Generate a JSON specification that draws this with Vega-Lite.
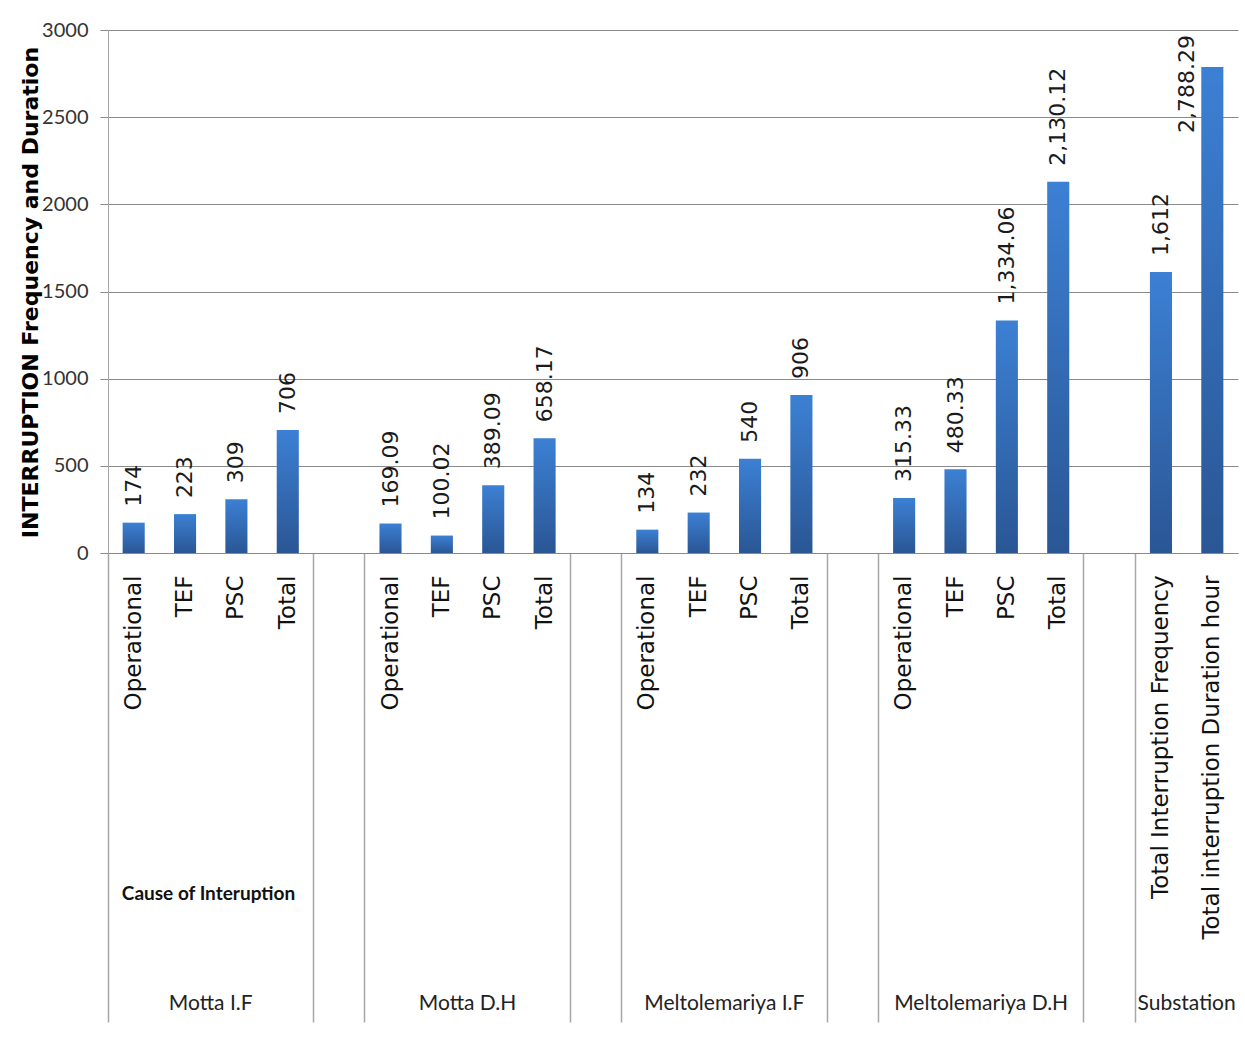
{
  "$schema": "https://vega.github.io/schema/vega-lite/v6.json",
  "autosize": "none",
  "width": 1130,
  "height": 523,
  "padding": {"left": 108, "top": 30, "right": 7, "bottom": 492},
  "background": "white",
  "config": {"view": {"stroke": null}},
  "data": {
    "values": [
      {"site": "Motta I.F", "cause": "Operational", "value": 174},
      {"site": "Motta I.F", "cause": "TEF", "value": 223},
      {"site": "Motta I.F", "cause": "PSC", "value": 309},
      {"site": "Motta I.F", "cause": "Total", "value": 706},
      {"site": "Motta D.H", "cause": "Operational", "value": 169.09},
      {"site": "Motta D.H", "cause": "TEF", "value": 100.02},
      {"site": "Motta D.H", "cause": "PSC", "value": 389.09},
      {"site": "Motta D.H", "cause": "Total", "value": 658.17},
      {"site": "Meltolemariya I.F", "cause": "Operational", "value": 134},
      {"site": "Meltolemariya I.F", "cause": "TEF", "value": 232},
      {"site": "Meltolemariya I.F", "cause": "PSC", "value": 540},
      {"site": "Meltolemariya I.F", "cause": "Total", "value": 906},
      {"site": "Meltolemariya D.H", "cause": "Operational", "value": 315.33},
      {"site": "Meltolemariya D.H", "cause": "TEF", "value": 480.33},
      {"site": "Meltolemariya D.H", "cause": "PSC", "value": 1334.06},
      {"site": "Meltolemariya D.H", "cause": "Total", "value": 2130.12},
      {"site": "Substation", "cause": "Total Interruption Frequency", "value": 1612},
      {"site": "Substation", "cause": "Total interruption Duration hour", "value": 2788.29}
    ]
  },
  "transform": [{"calculate": "datum.site + '|' + datum.cause", "as": "slot"}],
  "resolve": {"axis": {"x": "independent"}},
  "layer": [
    {
      "mark": {
        "type": "bar",
        "width": {"band": 0.43},
        "color": {
          "gradient": "linear",
          "x1": 0, "y1": 0, "x2": 0, "y2": 1,
          "stops": [
            {"offset": 0, "color": "#3c80d4"},
            {"offset": 1, "color": "#2a5694"}
          ]
        }
      },
      "encoding": {
        "x": {
          "field": "slot",
          "type": "nominal",
          "sort": null,
          "scale": {
            "domain": [
              "Motta I.F|Operational", "Motta I.F|TEF", "Motta I.F|PSC", "Motta I.F|Total", "gap1|",
              "Motta D.H|Operational", "Motta D.H|TEF", "Motta D.H|PSC", "Motta D.H|Total", "gap2|",
              "Meltolemariya I.F|Operational", "Meltolemariya I.F|TEF", "Meltolemariya I.F|PSC", "Meltolemariya I.F|Total", "gap3|",
              "Meltolemariya D.H|Operational", "Meltolemariya D.H|TEF", "Meltolemariya D.H|PSC", "Meltolemariya D.H|Total", "gap4|",
              "Substation|Total Interruption Frequency", "Substation|Total interruption Duration hour"
            ],
            "paddingInner": 0,
            "paddingOuter": 0
          },
          "axis": {
            "orient": "bottom",
            "labelExpr": "split(datum.value, '|')[1]",
            "labelAngle": -90,
            "labelAlign": "right",
            "labelBaseline": "middle",
            "labelPadding": 22,
            "labelFont": "DejaVu Sans",
            "labelFontSize": 23,
            "labelColor": "#111",
            "labelLimit": 600,
            "labelOverlap": false,
            "ticks": false,
            "domain": false,
            "grid": false,
            "title": "Cause of Interuption",
            "titleFont": "Lato",
            "titleFontWeight": "bold",
            "titleFontSize": 19,
            "titleColor": "#111",
            "titleX": 100,
            "titleY": 340,
            "titleAlign": "center",
            "titleBaseline": "middle",
            "titleAngle": 0
          }
        },
        "y": {
          "field": "value",
          "type": "quantitative",
          "scale": {"domain": [0, 3000], "nice": false},
          "axis": {
            "values": [0, 500, 1000, 1500, 2000, 2500, 3000],
            "format": "d",
            "grid": true,
            "gridColor": "#8a8a8a",
            "gridWidth": 1,
            "domain": true,
            "domainColor": "#a6a6a6",
            "tickColor": "#8a8a8a",
            "tickSize": 8,
            "labelPadding": 12,
            "labelFont": "Lato",
            "labelFontSize": 20,
            "labelColor": "#333",
            "title": "INTERRUPTION Frequency and Duration",
            "titleFont": "DejaVu Sans",
            "titleFontWeight": "bold",
            "titleFontSize": 22,
            "titleColor": "#000",
            "titleAngle": -90,
            "titleX": -78,
            "titleY": 262,
            "titleAlign": "center",
            "titleBaseline": "middle"
          }
        }
      }
    },
    {
      "transform": [{"filter": "datum.value < 2500"}],
      "mark": {
        "type": "text",
        "angle": -90,
        "align": "left",
        "baseline": "middle",
        "dx": 16,
        "font": "DejaVu Sans",
        "fontSize": 22,
        "color": "#1a1a1a"
      },
      "encoding": {
        "x": {
          "field": "slot",
          "type": "nominal",
          "sort": null,
          "axis": {
            "orient": "bottom",
            "bandPosition": 0,
            "labelExpr": "datum.value == 'Motta I.F|PSC' ? 'Motta I.F' : datum.value == 'Motta D.H|PSC' ? 'Motta  D.H' : datum.value == 'Meltolemariya I.F|PSC' ? 'Meltolemariya  I.F' : datum.value == 'Meltolemariya D.H|PSC' ? 'Meltolemariya  D.H' : datum.value == 'Substation|Total interruption Duration hour' ? 'Substation' : ''",
            "labelAngle": 0,
            "labelAlign": "center",
            "labelBaseline": "middle",
            "labelPadding": -19,
            "labelOffset": -25.7,
            "labelFont": "Lato",
            "labelFontSize": 21,
            "labelColor": "#222",
            "labelOverlap": false,
            "ticks": true,
            "tickSize": 469,
            "tickColor": "#a6a6a6",
            "tickWidth": 1.5,
            "tickOpacity": {
              "condition": {
                "test": "indexof(datum.value, 'Operational') >= 0 || indexof(datum.value, 'gap') >= 0 || indexof(datum.value, 'Frequency') >= 0",
                "value": 1
              },
              "value": 0
            },
            "domain": true,
            "domainColor": "#8a8a8a",
            "grid": false,
            "title": null
          }
        },
        "y": {"field": "value", "type": "quantitative"},
        "text": {"field": "value", "type": "quantitative", "format": ",.2~f"}
      }
    },
    {
      "transform": [{"filter": "datum.value >= 2500"}],
      "mark": {
        "type": "text",
        "angle": -90,
        "align": "left",
        "baseline": "middle",
        "dx": -66,
        "dy": -25,
        "font": "DejaVu Sans",
        "fontSize": 22,
        "color": "#1a1a1a"
      },
      "encoding": {
        "x": {"field": "slot", "type": "nominal", "sort": null, "axis": null},
        "y": {"field": "value", "type": "quantitative"},
        "text": {"field": "value", "type": "quantitative", "format": ",.2~f"}
      }
    }
  ]
}
